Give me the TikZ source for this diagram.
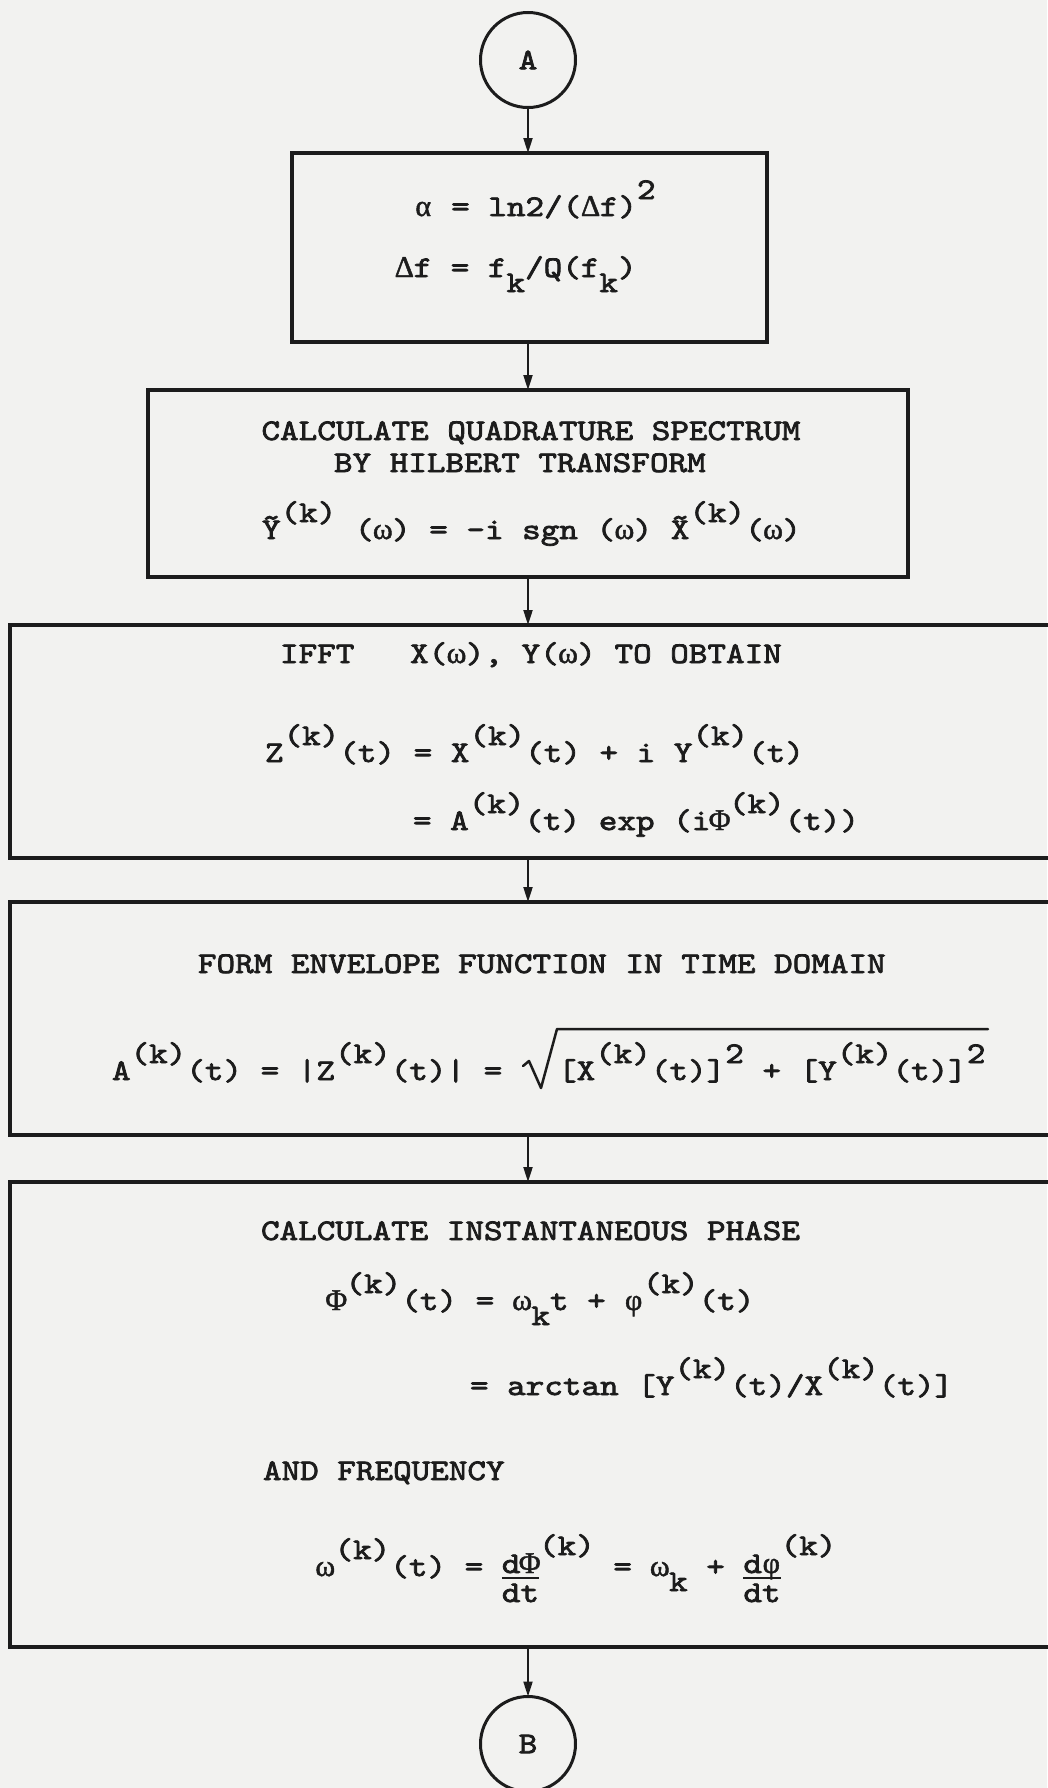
\documentclass[tikz,border=0pt]{standalone}
\usepackage{fontspec}
\newfontfamily\tw{lmmono10-regular.otf}[FakeBold=2.5,FakeStretch=1.18]
\newfontfamily\grk{Liberation Serif}[FakeBold=1.5]
\usetikzlibrary{arrows.meta}
\definecolor{ink}{RGB}{28,28,28}
\definecolor{paper}{RGB}{242,242,240}
\newcommand\hi[1]{\raisebox{17pt}{#1}}
\newcommand\hii[1]{\raisebox{21pt}{#1}}
\newcommand\lo[1]{\raisebox{-15pt}{#1}}
\newcommand\g[1]{{\setbox0\hbox{M}\makebox[\wd0]{\grk #1}}}
\newcommand\tl[1]{{\setbox0\hbox{M}\rlap{\makebox[\wd0]{\raisebox{12pt}{\char"7E}}}}#1}
\newcommand\frc[2]{{\setbox0\hbox{MM}\rlap{\raisebox{-26pt}{#2}}\rlap{\rule[-3pt]{\wd0}{2.2pt}}\raisebox{3pt}{#1}}}
\newcommand\twfont{\tw\fontsize{30}{36}\selectfont\setbox0\hbox{M}\spaceskip=\wd0\relax}
\tikzset{
  box/.style={draw=ink, line width=3.5pt, rectangle, inner sep=0pt, outer sep=0pt},
  conn/.style={draw=ink, line width=3pt, circle, minimum size=95pt, inner sep=0pt, outer sep=0pt,
    font=\twfont, text=ink},
  txt/.style={inner sep=0pt, outer sep=0pt, font=\twfont, text=ink, anchor=base west},
  arr/.style={draw=ink, line width=2pt, -{Triangle[length=15pt,width=9pt]}},
}
\begin{document}
\begin{tikzpicture}[x=1pt,y=-1pt]
\fill[paper] (0,0) rectangle (1047,1788);
\useasboundingbox (0,0) rectangle (1047,1788);

% connectors (circles)
\node[conn] (A) at (528,60) {A};
\node[conn] (B) at (528,1744) {B};

% boxes
\node[box, minimum width=475pt, minimum height=189pt] (b1) at (529.5,247.5) {};
\node[box, minimum width=760pt, minimum height=187pt] (b2) at (528,483.5) {};
\node[box, minimum width=1044pt, minimum height=233pt] (b3) at (532,741.5) {};
\node[box, minimum width=1044pt, minimum height=233pt] (b4) at (532,1018.5) {};
\node[box, minimum width=1044pt, minimum height=465pt] (b5) at (532,1414.5) {};

% box 1
\node[txt] (t11) at (414,216) {\g{α} = ln2/(\g{Δ}f)\hi{2}};
\node[txt] (t12) at (395,277) {\g{Δ}f = f\lo{k}/Q(f\lo{k})};

% box 2
\node[txt, anchor=base] (t21) at (531,440) {CALCULATE QUADRATURE SPECTRUM};
\node[txt] (t22) at (334,472) {BY HILBERT TRANSFORM};
\node[txt] (t23) at (262,539) {\tl{Y}\hi{(k)} (\g{ω}) = -i sgn (\g{ω}) \tl{X}\hi{(k)}(\g{ω})};

% box 3
\node[txt] (t31) at (280,663) {IFFT~~~X(\g{ω}), Y(\g{ω}) TO OBTAIN};
\node[txt] (t32) at (265,762) {Z\hi{(k)}(t) = X\hi{(k)}(t) + i Y\hi{(k)}(t)};
\node[txt] (t33) at (413,830) {= A\hi{(k)}(t) exp (i\g{Φ}\hi{(k)}(t))};

% box 4
\node[txt] (t41) at (198,973) {FORM ENVELOPE FUNCTION IN TIME DOMAIN};
\node[txt] (t42) at (112,1080) {A\hi{(k)}(t) = |Z\hi{(k)}(t)| =~~~[X\hi{(k)}(t)]\hi{2} + [Y\hi{(k)}(t)]\hi{2}};
\draw[ink, line width=2.5pt, line join=round, line cap=round]
  (523,1066) -- (529,1061) -- (541,1088) -- (557,1029) -- (988,1029);

% box 5
\node[txt] (t51) at (261,1240) {CALCULATE INSTANTANEOUS PHASE};
\node[txt] (t52) at (327,1310) {\g{Φ}\hi{(k)}(t) = \g{ω}\lo{k}t + \g{φ}\hi{(k)}(t)};
\node[txt] (t53) at (470,1395) {= arctan [Y\hi{(k)}(t)/X\hi{(k)}(t)]};
\node[txt] (t54) at (263,1480) {AND FREQUENCY};
\node[txt] (t55) at (316,1576) {\g{ω}\hi{(k)}(t) = \frc{d\g{Φ}}{dt}\hii{(k)} = \g{ω}\lo{k} + \frc{d\g{φ}}{dt}\hii{(k)}};

% arrows
\draw[arr] (A.south) -- (A.south |- b1.north);
\draw[arr] (b1.south -| A.south) -- (A.south |- b2.north);
\draw[arr] (b2.south -| A.south) -- (A.south |- b3.north);
\draw[arr] (b3.south -| A.south) -- (A.south |- b4.north);
\draw[arr] (b4.south -| A.south) -- (A.south |- b5.north);
\draw[arr] (b5.south -| A.south) -- (B.north);
\end{tikzpicture}
\end{document}
